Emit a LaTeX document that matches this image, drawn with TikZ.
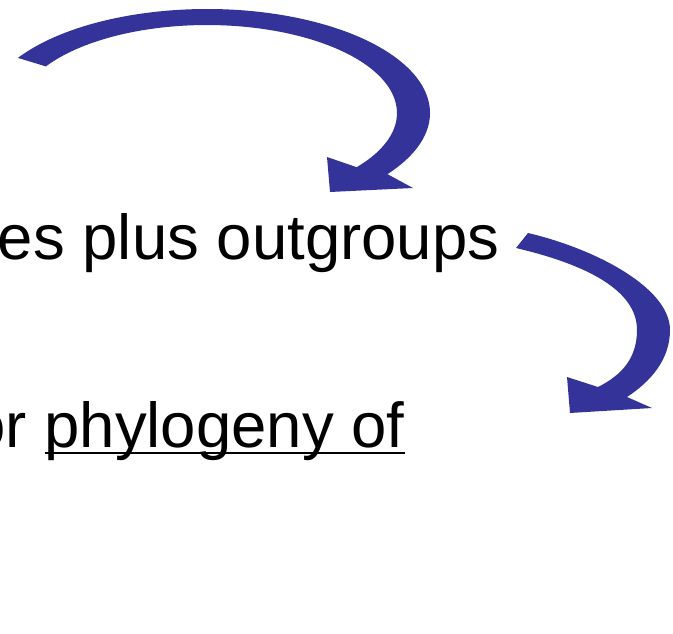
\documentclass[tikz,border=0pt]{standalone}
\usepackage{fontspec}
\setmainfont{Liberation Sans}
\definecolor{arrowblue}{RGB}{51,51,153}
\tikzset{
  bigarrow/.style={fill=arrowblue, draw=none},
  slidetext/.style={anchor=base west, inner sep=0pt, outer sep=0pt, font=\fontsize{63.5}{76}\selectfont, text=black},
  underrule/.style={draw=black, line width=2.6pt}
}
\begin{document}
\begin{tikzpicture}[x=1pt,y=-1pt]
\useasboundingbox (0,0) rectangle (673,634);
\clip (0,0) rectangle (673,634);
% arrow 1
\fill[bigarrow] (17.9,57.9) arc[start angle=148, end angle=-36, x radius=223pt, y radius=104pt]
  -- (413,188) -- (330,192) -- (327,157) -- (356.7,167.2)
  arc[start angle=-38, end angle=148, x radius=190pt, y radius=88pt] -- cycle;
% arrow 2
\fill[bigarrow] (528,233) .. controls (596,249) and (670,288) .. (670,330)
  .. controls (670,360) and (650,382) .. (627,397)
  -- (652,408) -- (570,413) -- (567,377) -- (598,387)
  .. controls (622,375) and (637,358) .. (637,330)
  .. controls (637,290) and (586,264.5) .. (516,248) -- cycle;
% texts
\node[slidetext] (t1) at (-2,259) {es plus outgroups};
\node[slidetext] (t2) at (-30,447) {or};
\node[slidetext] (t3) at (44.5,447) {phylogeny of};
\draw[underrule] ([yshift=-6pt]t3.base west) -- ([yshift=-6pt]t3.base east);
\end{tikzpicture}
\end{document}
